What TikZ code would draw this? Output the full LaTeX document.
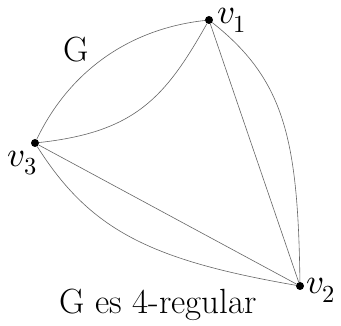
\documentclass[tikz,border=0pt]{standalone}
\usepackage{unicode-math}
\begin{document}
\begin{tikzpicture}[x=1pt,y=-1pt,
  vertex/.style={circle,fill=black,inner sep=0pt,minimum size=8pt},
  edge/.style={draw=black!60,line width=0.6pt},
  lbl/.style={inner sep=0pt,outer sep=0pt,font=\fontsize{35}{42}\selectfont}]
\path[use as bounding box] (0,0) rectangle (341,326);
\path[fill=white,draw=none] (0,0) rectangle (341,326);
% vertices
\node[vertex] (v1) at (209,20) {};
\node[vertex] (v2) at (300,286) {};
\node[vertex] (v3) at (35,143) {};
% labels
\node[lbl,anchor=west] (l1) at (217,20) {$v_1$};
\node[lbl,anchor=west] (l2) at (306,290) {$v_2$};
\node[lbl] (l3) at (22,163) {$v_3$};
\node[lbl] (g) at (76,50) {G};
\node[lbl] (cap) at (158,305) {G es 4-regular};
% edges
\path[edge] (v3) .. controls (65,80) and (120,30) .. (v1);
\path[edge] (v3) .. controls (135,132) and (165,98) .. (v1);
\path[edge] (v1) -- (v2);
\path[edge] (v1) .. controls (285,80) and (298,140) .. (v2);
\path[edge] (v3) -- (v2);
\path[edge] (v3) .. controls (90,230) and (150,260) .. (v2);
\end{tikzpicture}
\end{document}
